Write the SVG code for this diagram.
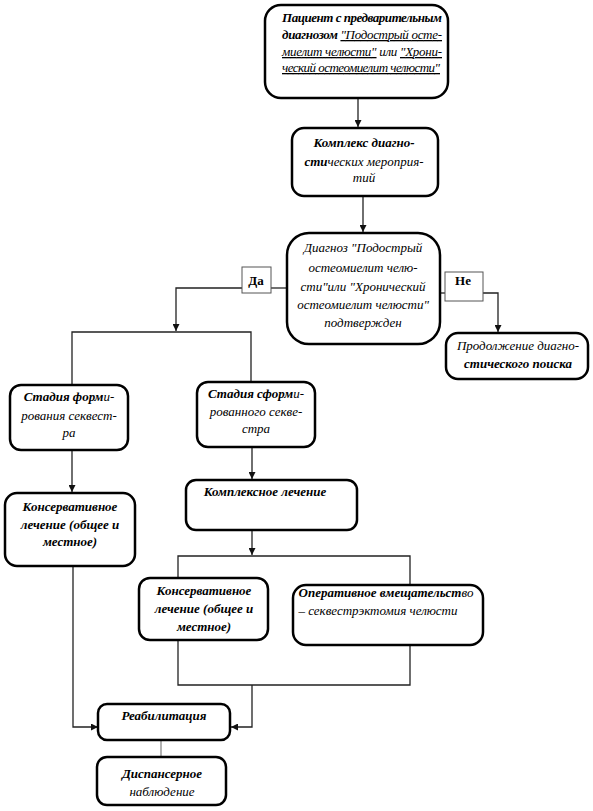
<svg xmlns="http://www.w3.org/2000/svg" width="593" height="811" viewBox="0 0 593 811">
<style>
.box{fill:#fff;stroke:#000;stroke-width:2.5}
.lbl{fill:#fff;stroke:#555;stroke-width:1}
.c{fill:none;stroke:#222;stroke-width:1.3}
.g{fill:none;stroke:#888;stroke-width:1.3}
text{font-family:'Liberation Serif','Times New Roman','DejaVu Serif',serif;font-style:italic;font-size:13px;text-anchor:middle;fill:#000}
.b{font-weight:bold}
.u{text-decoration:underline}
.up{font-style:normal;font-weight:bold}
</style>
<defs>
<marker id="ar" viewBox="0 0 10 10" refX="10" refY="5" markerWidth="7" markerHeight="7" markerUnits="userSpaceOnUse" orient="auto"><path d="M0,0L10,5L0,10z" fill="#111"/></marker>
</defs>
<rect width="593" height="811" fill="#fff"/>
<g id="connectors">
<path class="c" d="M358,98V127" marker-end="url(#ar)"/>
<path class="c" d="M363,196V232" marker-end="url(#ar)"/>
<path class="c" d="M287,288H271"/>
<path class="c" d="M242,288H176V331" marker-end="url(#ar)"/>
<path class="c" d="M72,385V332H251V382"/>
<path class="c" d="M440,293H446"/>
<path class="c" d="M483,293H498V332" marker-end="url(#ar)"/>
<path class="c" d="M72,450V492" marker-end="url(#ar)"/>
<path class="c" d="M252,447V479" marker-end="url(#ar)"/>
<path class="c" d="M252,530V555" marker-end="url(#ar)"/>
<path class="c" d="M178,578V556H410V585"/>
<path class="c" d="M178,640V685H410V645"/>
<path class="c" d="M252,685V727H231" marker-end="url(#ar)"/>
<path class="c" d="M73,566V727H98" marker-end="url(#ar)"/>
<path class="g" d="M161,740V757"/>
</g>
<g id="n1">
<rect class="box" x="265" y="5" width="183" height="93" rx="16"/>
<text x="282" y="22" style="text-anchor:start" textLength="160" lengthAdjust="spacing" class="b">Пациент с предварительным</text>
<text x="282" y="39" style="text-anchor:start" textLength="160" lengthAdjust="spacing"><tspan class="b">диагнозом</tspan> <tspan class="u">"Подострый осте-</tspan></text>
<text x="282" y="56" style="text-anchor:start" textLength="160" lengthAdjust="spacing"><tspan class="u">миелит челюсти"</tspan> или <tspan class="u">"Хрони-</tspan></text>
<text x="282" y="72" style="text-anchor:start" textLength="158" lengthAdjust="spacing"><tspan class="u">ческий остеомиелит челюсти"</tspan></text>
</g>
<g id="n2">
<rect class="box" x="292" y="128" width="146" height="68" rx="12"/>
<text x="364" y="147" class="b">Комплекс диагно-</text>
<text x="364" y="166"><tspan class="b">сти</tspan>ческих мероприя-</text>
<text x="364" y="182">тий</text>
</g>
<g id="n3">
<rect class="box" x="287" y="233" width="153" height="111" rx="22"/>
<text x="363" y="252">Диагноз "Подострый</text>
<text x="363" y="272">остеомиелит челю-</text>
<text x="363" y="291">сти"или "Хронический</text>
<text x="363" y="309">остеомиелит челюсти"</text>
<text x="363" y="327">подтвержден</text>
</g>
<g id="yes">
<rect class="lbl" x="242" y="267" width="29" height="26"/>
<text x="256" y="285" class="up">Да</text>
</g>
<g id="no">
<rect class="lbl" x="445" y="272" width="38" height="29"/>
<text x="463" y="285" class="up">Не</text>
</g>
<g id="n4">
<rect class="box" x="446" y="333" width="142" height="46" rx="12"/>
<text x="518" y="350">Продолжение диагно-</text>
<text x="518" y="368" class="b">стического поиска</text>
</g>
<g id="n5">
<rect class="box" x="10" y="385" width="118" height="65" rx="11"/>
<text x="69" y="401"><tspan class="b">Стадия форм</tspan>и-</text>
<text x="69" y="420">рования секвест-</text>
<text x="69" y="437">ра</text>
</g>
<g id="n6">
<rect class="box" x="197" y="382" width="118" height="65" rx="11"/>
<text x="256" y="398"><tspan class="b">Стадия сформ</tspan>и-</text>
<text x="256" y="416">рованного секве-</text>
<text x="256" y="433">стра</text>
</g>
<g id="n7">
<rect class="box" x="5" y="493" width="130" height="73" rx="12"/>
<text x="70" y="511" class="b">Консервативное</text>
<text x="70" y="529" class="b">лечение (общее и</text>
<text x="70" y="546" class="b">местное)</text>
</g>
<g id="n8">
<rect class="box" x="186" y="480" width="171" height="50" rx="10"/>
<text x="265" y="496" class="b">Комплексное лечение</text>
</g>
<g id="n9">
<rect class="box" x="139" y="578" width="129" height="62" rx="11"/>
<text x="204" y="595" class="b">Консервативное</text>
<text x="204" y="613" class="b">лечение (общее и</text>
<text x="204" y="631" class="b">местное)</text>
</g>
<g id="n10">
<rect class="box" x="293" y="585" width="190" height="60" rx="13"/>
<text x="386" y="597"><tspan class="b">Оперативное вмещательст</tspan>во</text>
<text x="378" y="615">– секвестрэктомия челюсти</text>
</g>
<g id="n11">
<rect class="box" x="98" y="704" width="132" height="36" rx="9"/>
<text x="164" y="720" class="b">Реабилитация</text>
</g>
<g id="n12">
<rect class="box" x="97" y="757" width="129" height="48" rx="10"/>
<text x="162" y="778" class="b">Диспансерное</text>
<text x="162" y="796">наблюдение</text>
</g>
</svg>
